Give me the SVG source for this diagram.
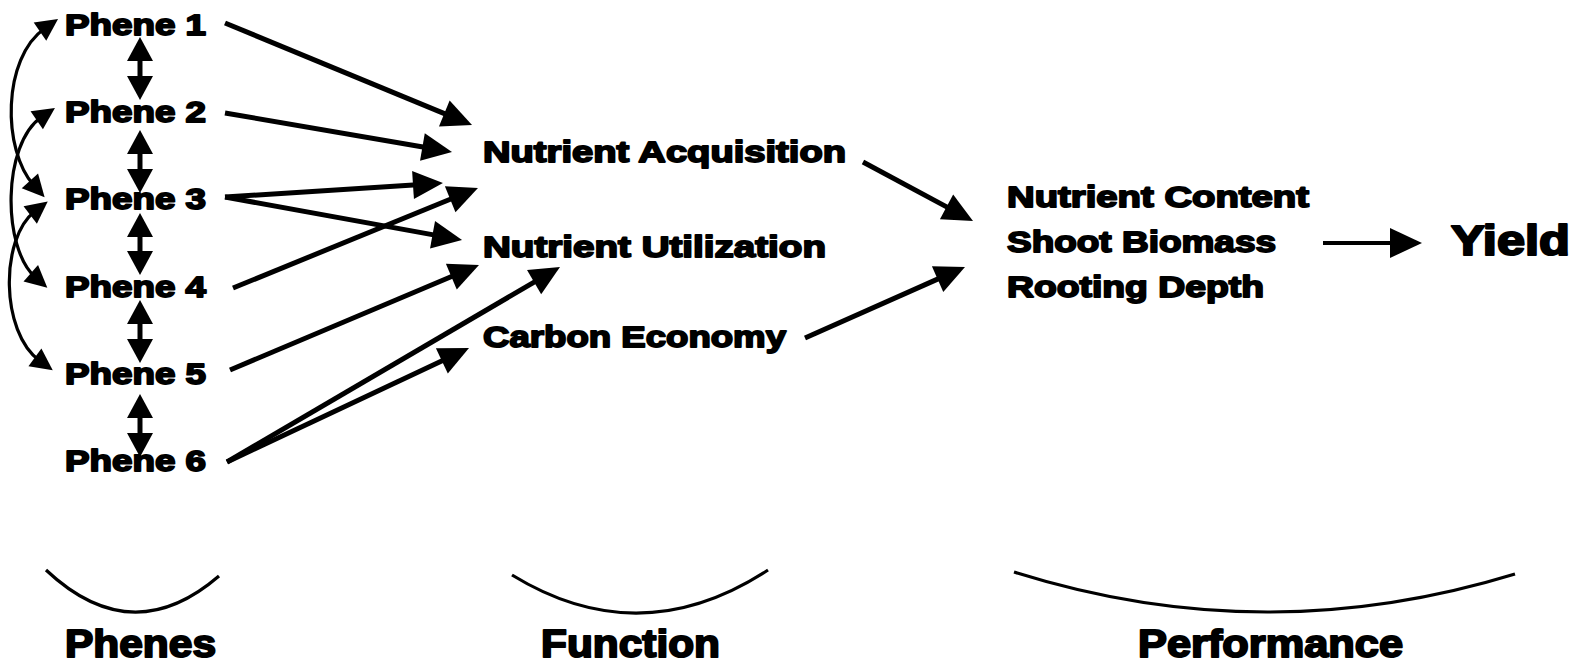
<svg xmlns="http://www.w3.org/2000/svg" width="1586" height="668" viewBox="0 0 1586 668">
<style>
  .t { font-family: "Liberation Sans", Arial, sans-serif; font-weight: bold; fill: #000; stroke: #000; stroke-width: 1.8; stroke-linejoin: round; }
  .ph { font-size: 29px; }
  .fn { font-size: 30px; }
  .big { font-size: 43px; stroke-width: 2.2; }
  .lab { font-size: 39px; stroke-width: 2; }
  .ln { fill: none; stroke: #000; stroke-linecap: butt; }
  .s5 { stroke-width: 5; }
  .s4 { stroke-width: 4; }
  .s3 { stroke-width: 3.2; }
</style>
<defs>
  <marker id="hd" viewBox="-9 -15 33 30" refX="0" refY="0" markerWidth="33" markerHeight="30" markerUnits="userSpaceOnUse" orient="auto-start-reverse">
    <path d="M22,0 L-8,-14 L-8,14 Z" fill="#000"/>
  </marker>
  <marker id="hv" viewBox="-7 -14 26 28" refX="0" refY="0" markerWidth="26" markerHeight="28" markerUnits="userSpaceOnUse" orient="auto-start-reverse">
    <path d="M18,0 L-6,-13 L-6,13 Z" fill="#000"/>
  </marker>
  <marker id="hc" viewBox="-7 -12 24 24" refX="0" refY="0" markerWidth="24" markerHeight="24" markerUnits="userSpaceOnUse" orient="auto-start-reverse">
    <path d="M16,0 L-6,-11 L-6,11 Z" fill="#000"/>
  </marker>
  <marker id="hy" viewBox="-11 -16 34 32" refX="0" refY="0" markerWidth="34" markerHeight="32" markerUnits="userSpaceOnUse" orient="auto-start-reverse">
    <path d="M22,0 L-10,-15 L-10,15 Z" fill="#000"/>
  </marker>
</defs>
<rect width="1586" height="668" fill="#fff"/>

<g id="connectors">
  <!-- vertical double arrows -->
  <line class="ln s5" x1="140" y1="55" x2="140" y2="82" marker-start="url(#hv)" marker-end="url(#hv)"/>
  <line class="ln s5" x1="140" y1="148" x2="140" y2="175" marker-start="url(#hv)" marker-end="url(#hv)"/>
  <line class="ln s5" x1="140" y1="231" x2="140" y2="257" marker-start="url(#hv)" marker-end="url(#hv)"/>
  <line class="ln s5" x1="140" y1="318" x2="140" y2="345" marker-start="url(#hv)" marker-end="url(#hv)"/>
  <line class="ln s5" x1="140" y1="412" x2="140" y2="439" marker-start="url(#hv)" marker-end="url(#hv)"/>
  <!-- curved double arrows -->
  <path class="ln s3" d="M44.9,28.2 C2,58 2,150 33.9,185.4" marker-start="url(#hc)" marker-end="url(#hc)"/>
  <path class="ln s3" d="M41.7,116.9 C2,144 2,248 35.3,277.2" marker-start="url(#hc)" marker-end="url(#hc)"/>
  <path class="ln s3" d="M35,211.3 C0,238 0,332 39.8,360.9" marker-start="url(#hc)" marker-end="url(#hc)"/>
  <!-- phenes to functions -->
  <line class="ln s5" x1="225" y1="23" x2="451.7" y2="116.6" marker-end="url(#hd)"/>
  <line class="ln s5" x1="225" y1="113" x2="430.3" y2="148.3" marker-end="url(#hd)"/>
  <line class="ln s5" x1="225" y1="197" x2="421.0" y2="184.4" marker-end="url(#hd)"/>
  <line class="ln s5" x1="225" y1="197" x2="440.4" y2="236.1" marker-end="url(#hd)"/>
  <line class="ln s5" x1="233" y1="288" x2="457.6" y2="196.3" marker-end="url(#hd)"/>
  <line class="ln s5" x1="230" y1="370" x2="458.7" y2="273.5" marker-end="url(#hd)"/>
  <line class="ln s5" x1="227" y1="462" x2="541.0" y2="278.1" marker-end="url(#hd)"/>
  <line class="ln s5" x1="227" y1="462" x2="449.1" y2="357.4" marker-end="url(#hd)"/>
  <!-- functions to performance -->
  <line class="ln s5" x1="863" y1="162" x2="953.6" y2="210.6" marker-end="url(#hd)"/>
  <line class="ln s5" x1="805" y1="338" x2="944.9" y2="275.9" marker-end="url(#hd)"/>
  <!-- performance to yield -->
  <line class="ln s4" x1="1323" y1="243" x2="1400" y2="243" marker-end="url(#hy)"/>
  <!-- bottom brackets -->
  <path class="ln s3" d="M46,570 Q132,651 219,576"/>
  <path class="ln s3" d="M512,575 Q640,653.5 768,570"/>
  <path class="ln s3" d="M1014,572 Q1264,651 1515,574"/>
</g>

<g id="phene1"><text class="t ph" x="65" y="35" textLength="141" lengthAdjust="spacingAndGlyphs">Phene 1</text></g>
<g id="phene2"><text class="t ph" x="65" y="122" textLength="141" lengthAdjust="spacingAndGlyphs">Phene 2</text></g>
<g id="phene3"><text class="t ph" x="65" y="209" textLength="141" lengthAdjust="spacingAndGlyphs">Phene 3</text></g>
<g id="phene4"><text class="t ph" x="65" y="297" textLength="141" lengthAdjust="spacingAndGlyphs">Phene 4</text></g>
<g id="phene5"><text class="t ph" x="65" y="384" textLength="141" lengthAdjust="spacingAndGlyphs">Phene 5</text></g>
<g id="phene6"><text class="t ph" x="65" y="471" textLength="141" lengthAdjust="spacingAndGlyphs">Phene 6</text></g>

<g id="nutrient-acquisition"><text class="t fn" x="483" y="162" textLength="363" lengthAdjust="spacingAndGlyphs">Nutrient Acquisition</text></g>
<g id="nutrient-utilization"><text class="t fn" x="483" y="257" textLength="343" lengthAdjust="spacingAndGlyphs">Nutrient Utilization</text></g>
<g id="carbon-economy"><text class="t fn" x="483" y="347" textLength="303" lengthAdjust="spacingAndGlyphs">Carbon Economy</text></g>

<g id="performance-traits">
  <text class="t fn" x="1007" y="207" textLength="302" lengthAdjust="spacingAndGlyphs">Nutrient Content</text>
  <text class="t fn" x="1007" y="252" textLength="269" lengthAdjust="spacingAndGlyphs">Shoot Biomass</text>
  <text class="t fn" x="1007" y="297" textLength="257" lengthAdjust="spacingAndGlyphs">Rooting Depth</text>
</g>

<g id="yield"><text class="t big" x="1451" y="255" textLength="119" lengthAdjust="spacingAndGlyphs">Yield</text></g>

<g id="label-phenes"><text class="t lab" x="65" y="657" textLength="151" lengthAdjust="spacingAndGlyphs">Phenes</text></g>
<g id="label-function"><text class="t lab" x="541" y="657" textLength="179" lengthAdjust="spacingAndGlyphs">Function</text></g>
<g id="label-performance"><text class="t lab" x="1138" y="657" textLength="265" lengthAdjust="spacingAndGlyphs">Performance</text></g>
</svg>
